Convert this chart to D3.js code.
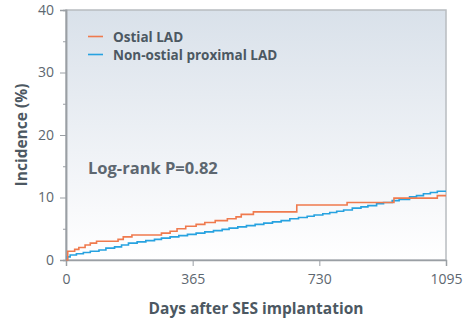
<!DOCTYPE html>
<html>
<head>
<meta charset="utf-8">
<script src="https://cdn.jsdelivr.net/npm/d3@7"></script>
<style>
body { margin: 0; background: #fff; }
text { font-family: "Open Sans", "Noto Sans", sans-serif; }
</style>
</head>
<body>
<svg id="chart" width="468" height="327"></svg>
<script>
// data: [day, incidence %]
var ostial = [[0,0],[5,1.4],[25,1.7],[37,2.0],[55,2.4],[70,2.7],[88,3.0],[150,3.3],[165,3.7],[190,4.0],
	[275,4.3],[300,4.6],[320,5.0],[345,5.4],[375,5.7],[400,6.0],[430,6.3],[465,6.6],[490,6.9],[505,7.3],
	[540,7.7],[665,8.8],[810,9.2],[945,9.9],[1070,10.3],[1095,10.3]];
var nonOstial = [[0,0],[4,0.5],[12,0.8],[30,1.0],[50,1.2],[70,1.4],[95,1.6],[115,1.9],[140,2.1],[160,2.4],
	[180,2.7],[205,2.9],[230,3.1],[255,3.3],[275,3.5],[300,3.7],[325,3.9],[350,4.1],[375,4.3],[400,4.5],
	[425,4.7],[450,4.9],[470,5.1],[495,5.3],[520,5.5],[545,5.7],[570,5.9],[595,6.1],[620,6.3],[645,6.6],
	[670,6.8],[695,7.0],[715,7.2],[740,7.4],[760,7.6],[780,7.8],[800,8.0],[825,8.3],[850,8.5],[870,8.7],
	[895,9.0],[915,9.2],[940,9.5],[960,9.7],[990,10.1],[1010,10.3],[1030,10.6],[1050,10.8],[1070,11.0],[1095,11.0]];
var seriesNames = ["Ostial LAD", "Non-ostial proximal LAD"];
var seriesColors = ["#ef7a4e", "#27a2e0"];
var xTicks = [0, 365, 730, 1095];
var yTicks = [0, 10, 20, 30, 40];
var yMinor = [5, 15, 25, 35];

var svg = d3.select("#chart");
var m = {l: 66, r: 446, t: 10, b: 260};
var x = d3.scaleLinear().domain([0, 1095]).range([m.l, m.r]);
var y = d3.scaleLinear().domain([0, 40]).range([m.b, m.t]);

// background gradient
var grad = svg.append("defs").append("linearGradient")
	.attr("id", "bg").attr("x1", 0).attr("y1", 0).attr("x2", 0).attr("y2", 1);
grad.append("stop").attr("offset", "0%").attr("stop-color", "#d9e1ea");
grad.append("stop").attr("offset", "80%").attr("stop-color", "#f8f9fb");
grad.append("stop").attr("offset", "100%").attr("stop-color", "#ffffff");
svg.append("rect")
	.attr("x", m.l).attr("y", m.t)
	.attr("width", m.r - m.l).attr("height", m.b - m.t)
	.attr("fill", "url(#bg)")
	.attr("stroke", "#b8bcc0").attr("stroke-width", 1.5);

// axes
svg.append("g").attr("transform", "translate(" + m.l + ",0)")
	.call(d3.axisLeft(y).tickValues(yTicks).tickSize(6).tickPadding(6));
svg.append("g").attr("transform", "translate(" + m.l + ",0)")
	.call(d3.axisLeft(y).tickValues(yMinor).tickSize(3).tickFormat(""));
svg.append("g").attr("transform", "translate(0," + m.b + ")")
	.call(d3.axisBottom(x).tickValues(xTicks).tickFormat(d3.format("d")).tickSize(6).tickPadding(8));
svg.selectAll(".domain").attr("stroke", "#9a9fa4").attr("stroke-width", 1.5);
svg.selectAll(".tick line").attr("stroke", "#9a9fa4");
svg.selectAll(".tick text")
	.attr("fill", "#5d6770")
	.style("font-size", "14px")
	.style("font-family", "'Open Sans', sans-serif");

// curves
var line = d3.line()
	.x(function(d){ return x(d[0]); })
	.y(function(d){ return y(d[1]); })
	.curve(d3.curveStepAfter);
[nonOstial, ostial].forEach(function(s, i){
	svg.append("path")
		.datum(s)
		.attr("fill", "none")
		.attr("stroke", seriesColors[1 - i])
		.attr("stroke-width", 1.6)
		.attr("d", line);
});

// legend
var leg = svg.append("g");
seriesNames.forEach(function(n, i){
	var ly = 36.5 + i * 18;
	leg.append("line")
		.attr("x1", 88).attr("x2", 103).attr("y1", ly).attr("y2", ly)
		.attr("stroke", seriesColors[i]).attr("stroke-width", 1.6);
	leg.append("text")
		.attr("x", 113).attr("y", ly + 5)
		.attr("fill", "#4c5862")
		.style("font-size", "13.5px").style("font-weight", "bold")
		.text(n);
});

svg.append("text")
	.attr("x", 88).attr("y", 174)
	.attr("fill", "#5d6770")
	.style("font-size", "16.5px").style("font-weight", "bold")
	.text("Log-rank P=0.82");

// axis titles
svg.append("text")
	.attr("x", 256).attr("y", 314)
	.attr("text-anchor", "middle")
	.attr("fill", "#4c5862")
	.style("font-size", "15.5px").style("font-weight", "bold")
	.text("Days after SES implantation");
svg.append("text")
	.attr("transform", "translate(27,135) rotate(-90)")
	.attr("text-anchor", "middle")
	.attr("fill", "#4c5862")
	.style("font-size", "15.5px").style("font-weight", "bold")
	.text("Incidence (%)");
</script>
</body>
</html>
